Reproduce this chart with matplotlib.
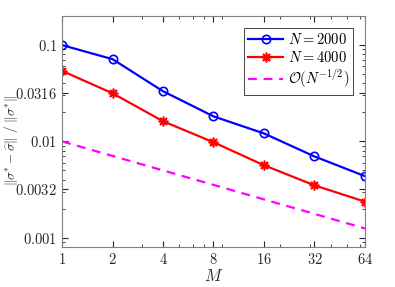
import matplotlib
matplotlib.use("Agg")
import matplotlib.pyplot as plt
from matplotlib.ticker import FixedLocator, FixedFormatter, NullFormatter

M = [1, 2, 4, 8, 16, 32, 64]
err_2000 = [0.100, 0.0714, 0.0332, 0.0182, 0.0121, 0.00698, 0.00436]
err_4000 = [0.054, 0.0316, 0.0162, 0.0098, 0.00566, 0.0035, 0.00237]
ref_rate = [0.01, 0.00707, 0.005, 0.00354, 0.0025, 0.00177, 0.00125]

xticks = [1, 2, 4, 8, 16, 32, 64]
yticks = [0.001, 0.0032, 0.01, 0.0316, 0.1]
ytick_labels = ["0.001", "0.0032", "0.01", "0.0316", "0.1"]

plt.rcParams["mathtext.fontset"] = "cm"
plt.rcParams["font.family"] = "serif"
plt.rcParams["font.serif"] = ["cmr10", "DejaVu Serif"]
plt.rcParams["axes.formatter.use_mathtext"] = True

gray = "#262626"
fig, ax = plt.subplots(figsize=(3.95, 2.87), dpi=100)
fig.subplots_adjust(left=0.157, right=0.924, top=0.944, bottom=0.139)

ax.plot(M, err_2000, "o-", color="#0000ff", lw=1.6, ms=6, mfc="none", mew=1.2,
        label=r"$N = 2000$")
ax.plot(M, err_4000, "-", color="#ff0000", lw=1.6, marker=(8, 2, 0), ms=7, mew=1.2,
        label=r"$N = 4000$")
ax.plot(M, ref_rate, "--", color="#ff00ff", lw=1.6, dashes=(4, 3),
        label=r"$\mathcal{O}(N^{-1/2})$")

ax.set_xscale("log")
ax.set_yscale("log")
ax.set_xlim(1, 64)
ax.set_ylim(0.0008, 0.2)
ax.xaxis.set_major_locator(FixedLocator(xticks))
ax.xaxis.set_major_formatter(FixedFormatter([f"${v}$" for v in xticks]))
ax.xaxis.set_minor_formatter(NullFormatter())
ax.yaxis.set_major_locator(FixedLocator(yticks))
ax.yaxis.set_major_formatter(FixedFormatter([f"${v}$" for v in ytick_labels]))
ax.yaxis.set_minor_formatter(NullFormatter())

ax.tick_params(which="both", direction="in", top=True, right=True, colors=gray,
               labelsize=10.5, labelcolor=gray)
ax.tick_params(which="major", length=4)
ax.tick_params(which="minor", length=2)
for s in ax.spines.values():
    s.set_color("#808080")
    s.set_linewidth(0.8)

ax.set_xlabel(r"$M$", fontsize=12, color=gray, labelpad=1)
ax.set_ylabel(r"$\|\sigma^{*} - \widehat{\sigma}\|\ /\ \|\sigma^{*}\|$",
              fontsize=9.5, color=gray)
ax.yaxis.set_label_coords(-0.14, 0.46)

leg = ax.legend(loc="upper right", fontsize=10.5, fancybox=False, framealpha=1,
                edgecolor="#262626", handlelength=2.4, borderpad=0.3,
                labelspacing=0.2, handletextpad=0.3, borderaxespad=0.8)
leg.get_frame().set_linewidth(0.6)

fig.savefig("out.png", dpi=100)
